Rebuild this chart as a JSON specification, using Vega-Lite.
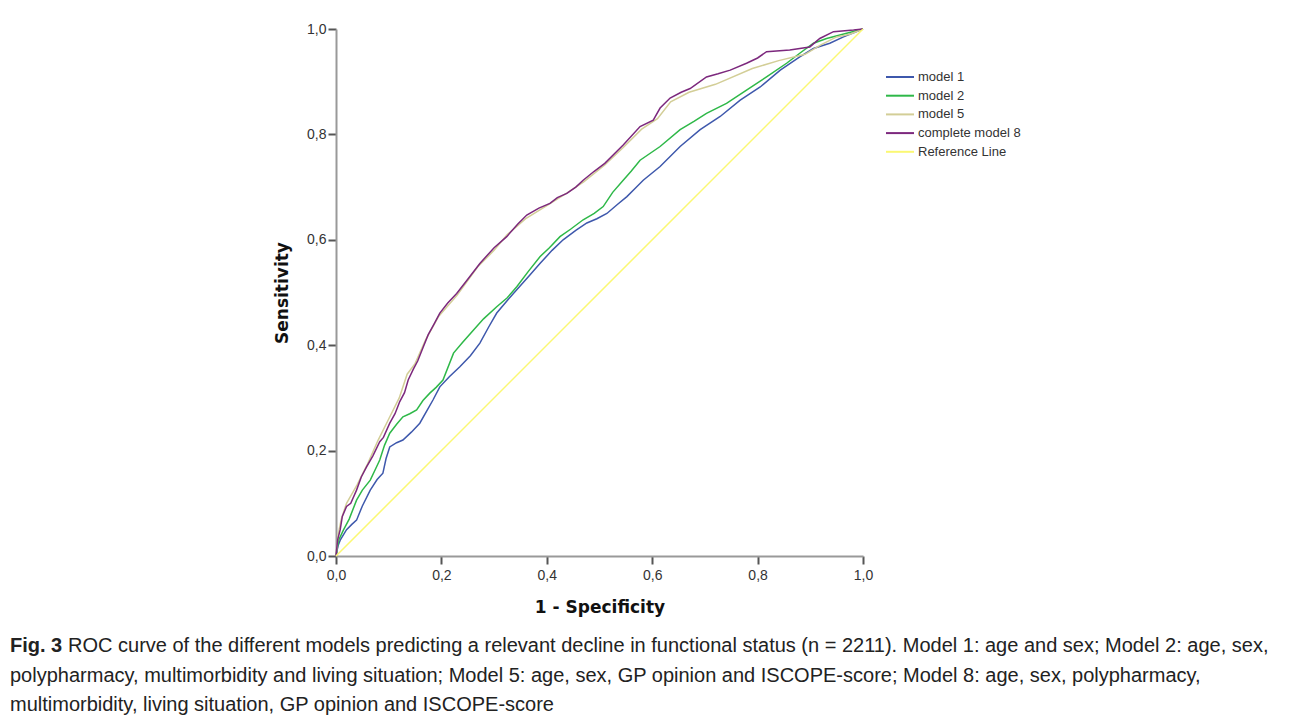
{
 "$schema": "https://vega.github.io/schema/vega-lite/v6.json",
 "autosize": "none",
 "width": 527,
 "height": 527,
 "padding": {"left": 336, "top": 29, "right": 427, "bottom": 159},
 "background": "white",
 "title": {
  "text": "Fig. 3",
  "subtitle": [
   "\u200b\u2002\u2002\u2002\u2002\u2002\u2009\u2009ROC curve of the different models predicting a relevant decline in functional status (n = 2211). Model 1: age and sex; Model 2: age, sex,",
   "polypharmacy, multimorbidity and living situation; Model 5: age, sex, GP opinion and ISCOPE-score; Model 8: age, sex, polypharmacy,",
   "multimorbidity, living situation, GP opinion and ISCOPE-score"
  ],
  "orient": "bottom",
  "anchor": "start",
  "frame": "group",
  "dx": -326,
  "offset": 21,
  "font": "Liberation Sans",
  "fontSize": 20,
  "fontWeight": "bold",
  "color": "#222222",
  "subtitleFont": "Liberation Sans",
  "subtitleFontSize": 20,
  "subtitleFontWeight": "normal",
  "subtitleColor": "#222222",
  "subtitleLineHeight": 29.5,
  "subtitlePadding": -20
 },
 "config": {"view": {"stroke": null}},
 "data": {"values": [
  {"m":"model 1","i":0,"x":0,"y":0},{"m":"model 1","i":1,"x":0.004,"y":0.02},{"m":"model 1","i":2,"x":0.008,"y":0.03},{"m":"model 1","i":3,"x":0.02,"y":0.05},{"m":"model 1","i":4,"x":0.03,"y":0.06},{"m":"model 1","i":5,"x":0.039,"y":0.068},{"m":"model 1","i":6,"x":0.05,"y":0.095},{"m":"model 1","i":7,"x":0.065,"y":0.125},{"m":"model 1","i":8,"x":0.078,"y":0.145},{"m":"model 1","i":9,"x":0.089,"y":0.157},{"m":"model 1","i":10,"x":0.095,"y":0.185},{"m":"model 1","i":11,"x":0.102,"y":0.207},{"m":"model 1","i":12,"x":0.115,"y":0.215},{"m":"model 1","i":13,"x":0.127,"y":0.22},{"m":"model 1","i":14,"x":0.143,"y":0.235},{"m":"model 1","i":15,"x":0.159,"y":0.252},{"m":"model 1","i":16,"x":0.172,"y":0.275},{"m":"model 1","i":17,"x":0.184,"y":0.296},{"m":"model 1","i":18,"x":0.197,"y":0.321},{"m":"model 1","i":19,"x":0.215,"y":0.34},{"m":"model 1","i":20,"x":0.235,"y":0.359},{"m":"model 1","i":21,"x":0.255,"y":0.38},{"m":"model 1","i":22,"x":0.273,"y":0.404},{"m":"model 1","i":23,"x":0.29,"y":0.435},{"m":"model 1","i":24,"x":0.305,"y":0.461},{"m":"model 1","i":25,"x":0.325,"y":0.485},{"m":"model 1","i":26,"x":0.343,"y":0.505},{"m":"model 1","i":27,"x":0.365,"y":0.53},{"m":"model 1","i":28,"x":0.387,"y":0.555},{"m":"model 1","i":29,"x":0.41,"y":0.58},{"m":"model 1","i":30,"x":0.431,"y":0.6},{"m":"model 1","i":31,"x":0.455,"y":0.618},{"m":"model 1","i":32,"x":0.476,"y":0.632},{"m":"model 1","i":33,"x":0.495,"y":0.64},{"m":"model 1","i":34,"x":0.514,"y":0.65},{"m":"model 1","i":35,"x":0.535,"y":0.668},{"m":"model 1","i":36,"x":0.552,"y":0.682},{"m":"model 1","i":37,"x":0.565,"y":0.695},{"m":"model 1","i":38,"x":0.583,"y":0.713},{"m":"model 1","i":39,"x":0.615,"y":0.739},{"m":"model 1","i":40,"x":0.653,"y":0.777},{"m":"model 1","i":41,"x":0.691,"y":0.809},{"m":"model 1","i":42,"x":0.729,"y":0.834},{"m":"model 1","i":43,"x":0.767,"y":0.865},{"m":"model 1","i":44,"x":0.805,"y":0.89},{"m":"model 1","i":45,"x":0.843,"y":0.922},{"m":"model 1","i":46,"x":0.88,"y":0.947},{"m":"model 1","i":47,"x":0.906,"y":0.963},{"m":"model 1","i":48,"x":0.937,"y":0.973},{"m":"model 1","i":49,"x":0.963,"y":0.985},{"m":"model 1","i":50,"x":1,"y":1},

  {"m":"model 2","i":0,"x":0,"y":0},{"m":"model 2","i":1,"x":0.005,"y":0.03},{"m":"model 2","i":2,"x":0.014,"y":0.049},{"m":"model 2","i":3,"x":0.025,"y":0.07},{"m":"model 2","i":4,"x":0.039,"y":0.106},{"m":"model 2","i":5,"x":0.05,"y":0.125},{"m":"model 2","i":6,"x":0.065,"y":0.144},{"m":"model 2","i":7,"x":0.075,"y":0.165},{"m":"model 2","i":8,"x":0.083,"y":0.182},{"m":"model 2","i":9,"x":0.092,"y":0.21},{"m":"model 2","i":10,"x":0.102,"y":0.233},{"m":"model 2","i":11,"x":0.115,"y":0.25},{"m":"model 2","i":12,"x":0.127,"y":0.264},{"m":"model 2","i":13,"x":0.14,"y":0.27},{"m":"model 2","i":14,"x":0.153,"y":0.277},{"m":"model 2","i":15,"x":0.165,"y":0.295},{"m":"model 2","i":16,"x":0.178,"y":0.309},{"m":"model 2","i":17,"x":0.19,"y":0.32},{"m":"model 2","i":18,"x":0.203,"y":0.334},{"m":"model 2","i":19,"x":0.223,"y":0.385},{"m":"model 2","i":20,"x":0.24,"y":0.405},{"m":"model 2","i":21,"x":0.261,"y":0.429},{"m":"model 2","i":22,"x":0.28,"y":0.45},{"m":"model 2","i":23,"x":0.305,"y":0.473},{"m":"model 2","i":24,"x":0.325,"y":0.49},{"m":"model 2","i":25,"x":0.343,"y":0.511},{"m":"model 2","i":26,"x":0.365,"y":0.54},{"m":"model 2","i":27,"x":0.387,"y":0.568},{"m":"model 2","i":28,"x":0.405,"y":0.585},{"m":"model 2","i":29,"x":0.425,"y":0.606},{"m":"model 2","i":30,"x":0.445,"y":0.62},{"m":"model 2","i":31,"x":0.469,"y":0.638},{"m":"model 2","i":32,"x":0.49,"y":0.65},{"m":"model 2","i":33,"x":0.507,"y":0.663},{"m":"model 2","i":34,"x":0.525,"y":0.69},{"m":"model 2","i":35,"x":0.545,"y":0.713},{"m":"model 2","i":36,"x":0.56,"y":0.73},{"m":"model 2","i":37,"x":0.577,"y":0.751},{"m":"model 2","i":38,"x":0.615,"y":0.777},{"m":"model 2","i":39,"x":0.653,"y":0.809},{"m":"model 2","i":40,"x":0.68,"y":0.825},{"m":"model 2","i":41,"x":0.703,"y":0.84},{"m":"model 2","i":42,"x":0.741,"y":0.859},{"m":"model 2","i":43,"x":0.779,"y":0.884},{"m":"model 2","i":44,"x":0.817,"y":0.909},{"m":"model 2","i":45,"x":0.855,"y":0.935},{"m":"model 2","i":46,"x":0.88,"y":0.954},{"m":"model 2","i":47,"x":0.906,"y":0.973},{"m":"model 2","i":48,"x":0.931,"y":0.982},{"m":"model 2","i":49,"x":0.969,"y":0.992},{"m":"model 2","i":50,"x":1,"y":1},

  {"m":"model 5","i":0,"x":0,"y":0},{"m":"model 5","i":1,"x":0.004,"y":0.04},{"m":"model 5","i":2,"x":0.01,"y":0.07},{"m":"model 5","i":3,"x":0.02,"y":0.1},{"m":"model 5","i":4,"x":0.04,"y":0.135},{"m":"model 5","i":5,"x":0.06,"y":0.175},{"m":"model 5","i":6,"x":0.08,"y":0.22},{"m":"model 5","i":7,"x":0.1,"y":0.26},{"m":"model 5","i":8,"x":0.12,"y":0.3},{"m":"model 5","i":9,"x":0.135,"y":0.345},{"m":"model 5","i":10,"x":0.15,"y":0.365},{"m":"model 5","i":11,"x":0.17,"y":0.41},{"m":"model 5","i":12,"x":0.195,"y":0.455},{"m":"model 5","i":13,"x":0.23,"y":0.495},{"m":"model 5","i":14,"x":0.27,"y":0.55},{"m":"model 5","i":15,"x":0.3,"y":0.58},{"m":"model 5","i":16,"x":0.325,"y":0.61},{"m":"model 5","i":17,"x":0.36,"y":0.64},{"m":"model 5","i":18,"x":0.4,"y":0.665},{"m":"model 5","i":19,"x":0.44,"y":0.69},{"m":"model 5","i":20,"x":0.47,"y":0.71},{"m":"model 5","i":21,"x":0.51,"y":0.742},{"m":"model 5","i":22,"x":0.545,"y":0.775},{"m":"model 5","i":23,"x":0.58,"y":0.81},{"m":"model 5","i":24,"x":0.61,"y":0.83},{"m":"model 5","i":25,"x":0.635,"y":0.862},{"m":"model 5","i":26,"x":0.67,"y":0.88},{"m":"model 5","i":27,"x":0.72,"y":0.895},{"m":"model 5","i":28,"x":0.79,"y":0.925},{"m":"model 5","i":29,"x":0.84,"y":0.94},{"m":"model 5","i":30,"x":0.89,"y":0.952},{"m":"model 5","i":31,"x":0.92,"y":0.97},{"m":"model 5","i":32,"x":0.95,"y":0.985},{"m":"model 5","i":33,"x":0.975,"y":0.99},{"m":"model 5","i":34,"x":1,"y":1},

  {"m":"complete model 8","i":0,"x":0,"y":0},{"m":"complete model 8","i":1,"x":0.003,"y":0.03},{"m":"complete model 8","i":2,"x":0.008,"y":0.05},{"m":"complete model 8","i":3,"x":0.012,"y":0.075},{"m":"complete model 8","i":4,"x":0.02,"y":0.094},{"m":"complete model 8","i":5,"x":0.028,"y":0.1},{"m":"complete model 8","i":6,"x":0.039,"y":0.125},{"m":"complete model 8","i":7,"x":0.048,"y":0.15},{"m":"complete model 8","i":8,"x":0.058,"y":0.169},{"m":"complete model 8","i":9,"x":0.07,"y":0.19},{"m":"complete model 8","i":10,"x":0.083,"y":0.217},{"m":"complete model 8","i":11,"x":0.09,"y":0.225},{"m":"complete model 8","i":12,"x":0.102,"y":0.252},{"m":"complete model 8","i":13,"x":0.112,"y":0.27},{"m":"complete model 8","i":14,"x":0.121,"y":0.293},{"m":"complete model 8","i":15,"x":0.13,"y":0.31},{"m":"complete model 8","i":16,"x":0.137,"y":0.334},{"m":"complete model 8","i":17,"x":0.147,"y":0.355},{"m":"complete model 8","i":18,"x":0.155,"y":0.37},{"m":"complete model 8","i":19,"x":0.165,"y":0.395},{"m":"complete model 8","i":20,"x":0.175,"y":0.42},{"m":"complete model 8","i":21,"x":0.186,"y":0.44},{"m":"complete model 8","i":22,"x":0.197,"y":0.461},{"m":"complete model 8","i":23,"x":0.212,"y":0.48},{"m":"complete model 8","i":24,"x":0.229,"y":0.498},{"m":"complete model 8","i":25,"x":0.25,"y":0.525},{"m":"complete model 8","i":26,"x":0.273,"y":0.555},{"m":"complete model 8","i":27,"x":0.3,"y":0.585},{"m":"complete model 8","i":28,"x":0.324,"y":0.606},{"m":"complete model 8","i":29,"x":0.345,"y":0.63},{"m":"complete model 8","i":30,"x":0.362,"y":0.647},{"m":"complete model 8","i":31,"x":0.385,"y":0.66},{"m":"complete model 8","i":32,"x":0.406,"y":0.669},{"m":"complete model 8","i":33,"x":0.42,"y":0.68},{"m":"complete model 8","i":34,"x":0.438,"y":0.688},{"m":"complete model 8","i":35,"x":0.455,"y":0.7},{"m":"complete model 8","i":36,"x":0.469,"y":0.713},{"m":"complete model 8","i":37,"x":0.49,"y":0.73},{"m":"complete model 8","i":38,"x":0.51,"y":0.745},{"m":"complete model 8","i":39,"x":0.545,"y":0.78},{"m":"complete model 8","i":40,"x":0.577,"y":0.815},{"m":"complete model 8","i":41,"x":0.602,"y":0.827},{"m":"complete model 8","i":42,"x":0.615,"y":0.85},{"m":"complete model 8","i":43,"x":0.634,"y":0.869},{"m":"complete model 8","i":44,"x":0.655,"y":0.88},{"m":"complete model 8","i":45,"x":0.672,"y":0.887},{"m":"complete model 8","i":46,"x":0.703,"y":0.909},{"m":"complete model 8","i":47,"x":0.725,"y":0.915},{"m":"complete model 8","i":48,"x":0.748,"y":0.922},{"m":"complete model 8","i":49,"x":0.779,"y":0.935},{"m":"complete model 8","i":50,"x":0.8,"y":0.945},{"m":"complete model 8","i":51,"x":0.817,"y":0.957},{"m":"complete model 8","i":52,"x":0.861,"y":0.96},{"m":"complete model 8","i":53,"x":0.899,"y":0.966},{"m":"complete model 8","i":54,"x":0.918,"y":0.982},{"m":"complete model 8","i":55,"x":0.944,"y":0.995},{"m":"complete model 8","i":56,"x":0.982,"y":0.998},{"m":"complete model 8","i":57,"x":1,"y":1},

  {"m":"Reference Line","i":0,"x":0,"y":0},{"m":"Reference Line","i":1,"x":1,"y":1}
 ]},
 "mark": {"type": "line", "strokeWidth": 1.5},
 "encoding": {
  "x": {"field": "x", "type": "quantitative",
   "scale": {"domain": [0, 1], "nice": false, "zero": false},
   "axis": {"values": [0, 0.2, 0.4, 0.6, 0.8, 1], "labelExpr": "replace(format(datum.value,'.1f'),'.',',')",
    "title": "1 - Specificity", "titleFont": "DejaVu Sans", "titleFontSize": 17, "titleFontWeight": "bold", "titleColor": "#111111", "titlePadding": 17,
    "labelFont": "Liberation Sans", "labelFontSize": 14, "labelColor": "#333333", "labelPadding": 4, "labelFlush": false, "labelOverlap": false,
    "tickSize": 8, "tickWidth": 2, "tickColor": "#555555", "domainColor": "#999999", "domainWidth": 2, "grid": false}},
  "y": {"field": "y", "type": "quantitative",
   "scale": {"domain": [0, 1], "nice": false, "zero": false},
   "axis": {"values": [0, 0.2, 0.4, 0.6, 0.8, 1], "labelExpr": "replace(format(datum.value,'.1f'),'.',',')",
    "title": "Sensitivity", "titleFont": "DejaVu Sans", "titleFontSize": 17, "titleFontWeight": "bold", "titleColor": "#111111", "titlePadding": 15,
    "labelFont": "Liberation Sans", "labelFontSize": 14, "labelColor": "#333333", "labelPadding": 2, "labelFlush": false, "labelOverlap": false,
    "tickSize": 8, "tickWidth": 2, "tickColor": "#555555", "domainColor": "#999999", "domainWidth": 2, "grid": false}},
  "color": {"field": "m", "type": "nominal",
   "scale": {"domain": ["model 1", "model 2", "model 5", "complete model 8", "Reference Line"],
             "range": ["#3E58AC", "#2EB848", "#D3CE97", "#7C287D", "#FBF873"]},
   "legend": {"orient": "none", "legendX": 554.5, "legendY": 38.5, "title": null, "padding": 0,
    "symbolType": "M-1.65,0H1.65", "symbolSize": 289, "symbolStrokeWidth": 2,
    "labelFont": "Liberation Sans", "labelFontSize": 13, "labelColor": "#333333", "labelOffset": 8.5, "rowPadding": 1.7}},
  "order": {"field": "i", "type": "quantitative"}
 }
}
